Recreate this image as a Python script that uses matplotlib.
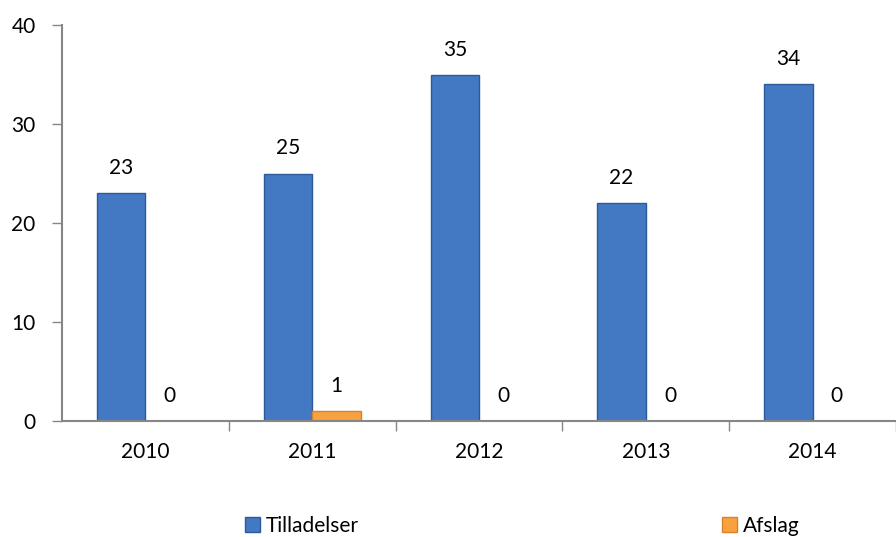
import numpy as np
import matplotlib
matplotlib.use("Agg")
import matplotlib.pyplot as plt
from matplotlib.patches import Patch

plt.rcParams['font.family'] = ['Lato', 'DejaVu Sans']

years = ['2010', '2011', '2012', '2013', '2014']
tilladelser = [23, 25, 35, 22, 34]
afslag = [0, 1, 0, 0, 0]

blue = '#4379C3'
blue_edge = '#2A5A9A'
orange = '#F7A23E'
orange_edge = '#D9822B'
grey = '#868686'
fs = 15

fig = plt.figure(figsize=(8.96, 5.37), dpi=100)
# axes spans from x=62px to right edge, y=25px to 421px
ax = fig.add_axes([62 / 896, 116 / 537, 834 / 896, 396 / 537])

x = np.arange(len(years))
w = 0.29
b1 = ax.bar(x - w / 2, tilladelser, w, color=blue, edgecolor=blue_edge, linewidth=1)
b2 = ax.bar(x + w / 2, afslag, w, color=orange, edgecolor=orange_edge, linewidth=1)

for bars, vals in [(b1, tilladelser), (b2, afslag)]:
    for rect, v in zip(bars, vals):
        ax.annotate(str(v), (rect.get_x() + rect.get_width() / 2, v),
                    xytext=(0, 18), textcoords='offset points',
                    ha='center', va='center', fontsize=fs)

ax.set_xlim(-0.5, -0.5 + 834 / 168)
ax.set_ylim(0, 40)
ax.set_yticks([0, 10, 20, 30, 40])

ax.set_xticks(x)
ax.set_xticklabels(years)
ax.set_xticks(np.arange(len(years)) + 0.5, minor=True)
ax.tick_params(axis='x', which='major', length=0, pad=15, labelsize=fs)
ax.tick_params(axis='x', which='minor', length=7, color=grey, width=1)
ax.tick_params(axis='y', length=7, color=grey, width=1, labelsize=fs, pad=12)

for s in ['top', 'right']:
    ax.spines[s].set_visible(False)
for s in ['left', 'bottom']:
    ax.spines[s].set_color(grey)
    ax.spines[s].set_linewidth(1.5)

handles = [Patch(facecolor=blue, edgecolor=blue_edge, label='Tilladelser'),
           Patch(facecolor=orange, edgecolor=orange_edge, label='Afslag')]
fig.legend(handles=handles, loc='center', bbox_to_anchor=(0.583, 1 - 526 / 537),
           ncol=2, frameon=False, fontsize=fs, handlelength=0.72, handleheight=0.72,
           handletextpad=0.3, columnspacing=17.4)

fig.savefig('out.png', dpi=100)
